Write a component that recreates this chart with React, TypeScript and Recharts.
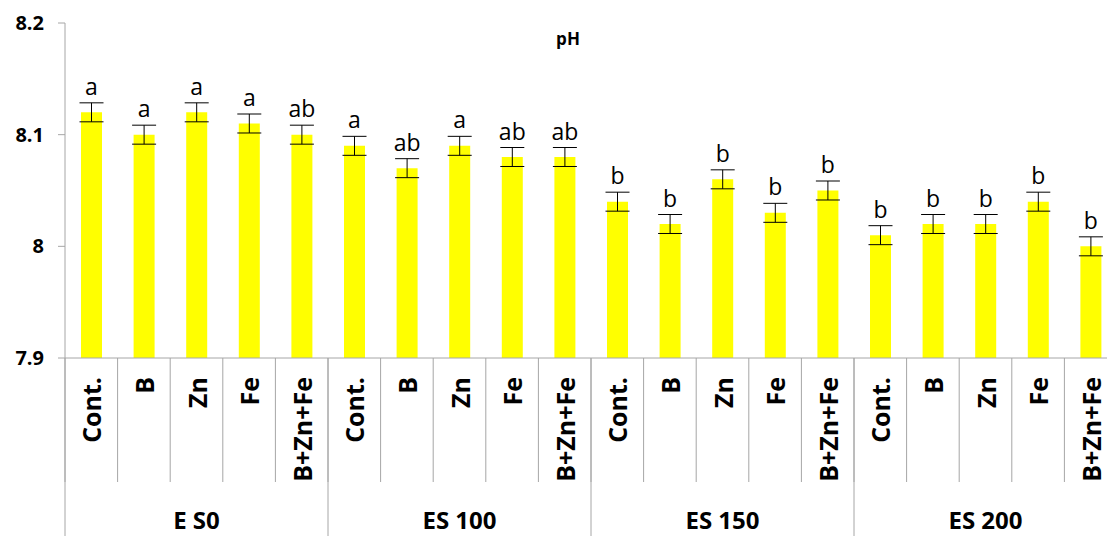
import React from 'react';
import { BarChart, Bar, XAxis, YAxis, ErrorBar, LabelList } from 'recharts';

const GROUPS = ['E S0', 'ES 100', 'ES 150', 'ES 200'];
const TREATMENTS = ['Cont.', 'B', 'Zn', 'Fe', 'B+Zn+Fe'];
const PH = [
  8.12, 8.10, 8.12, 8.11, 8.10,
  8.09, 8.07, 8.09, 8.08, 8.08,
  8.04, 8.02, 8.06, 8.03, 8.05,
  8.01, 8.02, 8.02, 8.04, 8.00,
];
const ERR = [
  0.0085, 0.0085, 0.0085, 0.0085, 0.0085,
  0.0085, 0.0085, 0.0085, 0.0085, 0.0085,
  0.0085, 0.0085, 0.0085, 0.0085, 0.0085,
  0.0085, 0.0085, 0.0085, 0.0085, 0.0085,
];
const LETTERS = [
  'a', 'a', 'a', 'a', 'ab',
  'a', 'ab', 'a', 'ab', 'ab',
  'b', 'b', 'b', 'b', 'b',
  'b', 'b', 'b', 'b', 'b',
];
const Y_TICKS = [7.9, 8, 8.1, 8.2];

const data = PH.map((v, i) => ({
  treat: TREATMENTS[i % 5],
  group: GROUPS[Math.floor(i / 5)],
  ph: v,
  err: ERR[i],
  letter: LETTERS[i],
}));

const FONT = '"Open Sans", "Noto Sans", sans-serif';
const GRID = '#A6A6A6';
const CAT_W = 52.6;
const PLOT_H = 335;
const PX_PER_UNIT = PLOT_H / 0.3;
const CAT_AXIS_H = 124;
const GROUP_AXIS_H = 54;

const TreatTick = ({ x, y, payload }: any) => (
  <g>
    <line x1={x - CAT_W / 2} x2={x - CAT_W / 2} y1={y} y2={y + CAT_AXIS_H} stroke={GRID} />
    <text
      x={x}
      y={y + 19}
      transform={`rotate(-90, ${x}, ${y + 19})`}
      textAnchor="end"
      dominantBaseline="central"
      fontFamily={FONT}
      fontWeight={700}
      fontSize={25}
      fill="#000"
    >
      {payload.value}
    </text>
  </g>
);

const GroupTick = ({ x, y, payload }: any) => {
  const i = payload.index;
  return (
    <g>
      {i % 5 === 0 && (
        <line x1={x - CAT_W / 2} x2={x - CAT_W / 2} y1={y - CAT_AXIS_H} y2={y + GROUP_AXIS_H} stroke={GRID} />
      )}
      {i % 5 === 2 && (
        <text x={x} y={y + 37} textAnchor="middle" dominantBaseline="central"
          fontFamily={FONT} fontWeight={700} fontSize={24} fill="#000">
          {GROUPS[Math.floor(i / 5)]}
        </text>
      )}
    </g>
  );
};

const LetterLabel = ({ x, y, width, index }: any) => (
  <text x={x + width / 2} y={y - ERR[index] * PX_PER_UNIT - 8} textAnchor="middle"
    fontFamily={FONT} fontSize={23} fill="#000">
    {LETTERS[index]}
  </text>
);

export default function App() {
  return (
    <div style={{ position: 'fixed', left: 0, top: 0, width: 1107, height: 536, overflow: 'hidden', background: '#fff' }}>
      <div style={{ position: 'absolute', left: 568, top: 27, transform: 'translateX(-50%)', fontFamily: FONT, fontWeight: 700, fontSize: 17 }}>
        pH
      </div>
      <BarChart width={1130} height={536} data={data} margin={{ top: 23, right: 13, left: 0, bottom: 0 }}>
        <YAxis
          domain={[7.9, 8.2]}
          ticks={Y_TICKS}
          allowDataOverflow
          width={65}
          axisLine={{ stroke: GRID }}
          tickLine={{ stroke: GRID }}
          tickSize={7}
          tickMargin={14}
          tick={{ fontFamily: FONT, fontWeight: 700, fontSize: 20, fill: '#000' }}
        />
        <XAxis
          dataKey="treat"
          interval={0}
          height={CAT_AXIS_H}
          axisLine={{ stroke: GRID }}
          tickLine={false}
          tickSize={0}
          tickMargin={0}
          tick={<TreatTick />}
        />
        <XAxis
          xAxisId="g"
          dataKey="treat"
          interval={0}
          height={GROUP_AXIS_H}
          axisLine={false}
          tickLine={false}
          tickSize={0}
          tickMargin={0}
          tick={<GroupTick />}
        />
        <Bar dataKey="ph" fill="#FFFF00" barSize={21} isAnimationActive={false}>
          <ErrorBar dataKey="err" width={12} stroke="#000" strokeWidth={1} />
          <LabelList dataKey="letter" content={<LetterLabel />} />
        </Bar>
      </BarChart>
    </div>
  );
}
